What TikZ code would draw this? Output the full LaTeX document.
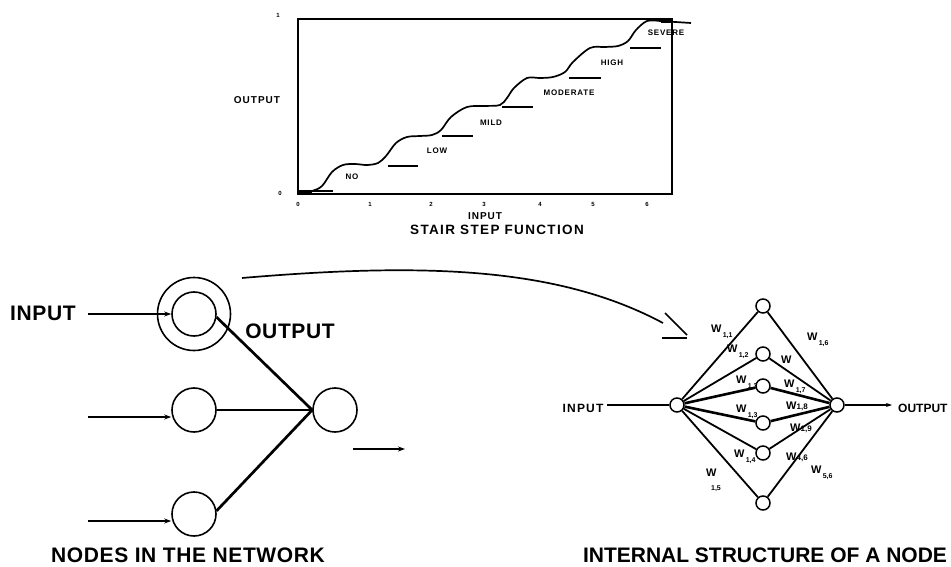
\documentclass[tikz,border=0pt]{standalone}
\usepackage{fontspec}
\setmainfont{Liberation Sans}
\newfontfamily\spacedfont[LetterSpace=10]{Liberation Sans}
\newfontfamily\widefont[LetterSpace=3]{Liberation Sans}
\usetikzlibrary{arrows.meta}

% weight label: a W with a lowered index
\newcommand\wlab[1]{W\raisebox{-5pt}{\fontsize{7}{7}\selectfont\,#1}}

\tikzset{
  bigtxt/.style={font=\fontsize{21}{21}\selectfont\bfseries, inner sep=0pt},
  widetxt/.style={font=\widefont\fontsize{21}{21}\selectfont\bfseries, inner sep=0pt},
  midtxt/.style={font=\spacedfont\fontsize{12}{12}\selectfont\bfseries, inner sep=0pt},
  axtxt/.style={font=\spacedfont\fontsize{10}{10}\selectfont\bfseries, inner sep=0pt},
  titletxt/.style={font=\spacedfont\fontsize{13.5}{13.5}\selectfont\bfseries, inner sep=0pt},
  zonetxt/.style={font=\spacedfont\fontsize{8}{8}\selectfont\bfseries, inner sep=0pt},
  ticktxt/.style={font=\fontsize{6}{6}\selectfont\bfseries, inner sep=0pt},
  wtxt/.style={font=\fontsize{11}{11}\selectfont\bfseries, inner sep=0pt, anchor=west},
  unit/.style={circle, draw, line width=1.6pt, inner sep=0pt, minimum size=44pt},
  ring/.style={circle, draw, line width=1.6pt, inner sep=0pt, minimum size=73pt},
  cell/.style={circle, draw, line width=1.5pt, inner sep=0pt, minimum size=14pt},
  feed/.style={line width=2pt, -{Stealth[length=7pt,width=5pt]}},
  link/.style={line width=2.7pt},
  wire/.style={line width=1.8pt},
  thickwire/.style={line width=2.6pt},
  stepline/.style={line width=1.7pt},
}

\begin{document}
\begin{tikzpicture}[x=1pt,y=-1pt]
\useasboundingbox (0,0) rectangle (951,567);

% ---------------- stair step function plot ----------------
\draw[line width=1.9pt] (298,19) rectangle (672,194);
\fill (298,190) rectangle (312,194);
\fill (661,19) rectangle (672,23);

\draw[stepline] plot[smooth, tension=0.55] coordinates {
  (300,192) (312,191) (322,186) (332,172) (343,165) (355,164) (367,165)
  (378,163) (386,156) (396,143) (407,137) (420,136) (432,135) (441,130)
  (451,117) (467,107) (485,106) (500,105) (507,98) (514,88) (527,78)
  (540,78) (553,77) (565,72) (573,62) (590,48) (605,47) (618,46)
  (628,41) (636,30) (647,21) (660,21)};
\draw[stepline] (660,21) -- (691,23);

% threshold marks
\foreach \xa/\xb/\yy in {303/333/191, 388/418/166, 442/473/136,
                         502/533/107, 569/601/78, 630/661/48}
  \draw[stepline] (\xa,\yy) -- (\xb,\yy);

% zone names
\node[zonetxt] (zno)   at (352,177) {NO};
\node[zonetxt] (zlow)  at (437,151) {LOW};
\node[zonetxt] (zmild) at (491,123) {MILD};
\node[zonetxt] (zmod)  at (569,93)  {MODERATE};
\node[zonetxt] (zhigh) at (612,63)  {HIGH};
\node[zonetxt] (zsev)  at (666,33)  {SEVERE};

% axis numbers
\node[ticktxt] (y1) at (278,15)  {1};
\node[ticktxt] (y0) at (280,193) {0};
\foreach \v/\xx in {0/298, 1/370, 2/431, 3/484, 4/540, 5/593, 6/647}
  \node[ticktxt] (tx\v) at (\xx,204) {\v};

\node[axtxt] (ylab) at (257,100) {OUTPUT};
\node[axtxt] (xlab) at (485,216) {INPUT};
\node[titletxt] (ptitle) at (497,230) {STAIR STEP FUNCTION};

% ---------------- nodes in the network ----------------
\node[ring] (outer) at (194,314) {};
\node[unit] (n1) at (194,314) {};
\node[unit] (n2) at (194,410) {};
\node[unit] (n3) at (194,514) {};
\node[unit] (nout) at (335,410) {};

\coordinate (s1) at (88,314);
\coordinate (s2) at (88,417);
\coordinate (s3) at (88,521);
\draw[feed] (s1) -- (n1.west);
\draw[feed] (s2) -- (n2.west |- s2);
\draw[feed] (s3) -- (n3.west |- s3);

\draw[link] (n1.-8) -- (nout.west);
\draw[link] (n2.east) -- (nout.west);
\draw[link] (n3.8) -- (nout.west);

\coordinate (q1) at (353,449);
\coordinate (q2) at (405,449);
\draw[line width=1.8pt, -{Stealth[length=7pt,width=5pt]}] (q1) -- (q2);

\node[widetxt] (inlab)  at (43,313)  {INPUT};
\node[widetxt] (outlab) at (290,331) {OUTPUT};
\node[widetxt] (leftcap) at (188,555) {NODES IN THE NETWORK};

% expansion curve toward the internal structure
\coordinate (c0) at (242,278);
\coordinate (c1) at (663,323);
\draw[line width=1.7pt] (c0) .. controls (430,262) and (560,268) .. (c1);
\coordinate (h1) at (665,313);
\coordinate (h2) at (687,335);
\coordinate (h3) at (662,338);
\coordinate (h4) at (687,338);
\draw[line width=1.7pt] (h1) -- (h2);
\draw[line width=1.7pt] (h3) -- (h4);

% ---------------- internal structure of a node ----------------
\node[cell] (I) at (677,405) {};
\node[cell] (O) at (837,405) {};
\node[cell] (H1) at (763,306) {};
\node[cell] (H2) at (763,354) {};
\node[cell] (H3) at (763,386) {};
\node[cell] (H4) at (763,423) {};
\node[cell] (H5) at (763,453) {};
\node[cell] (H6) at (763,503) {};

\foreach \k in {1,2,5,6} {
  \draw[wire] (I) -- (H\k);
  \draw[wire] (H\k) -- (O);
}
\foreach \k in {3,4} {
  \draw[thickwire] (I) -- (H\k);
  \draw[thickwire] (H\k) -- (O);
}

\coordinate (rin) at (607,405);
\coordinate (rout) at (892,405);
\draw[wire] (rin) -- (I);
\draw[wire, -{Stealth[length=6pt,width=4pt]}] (O) -- (rout);

\node[midtxt] (rinlab) at (583,408) {INPUT};
\node[font=\fontsize{12}{12}\selectfont\bfseries, inner sep=0pt, anchor=west] (routlab) at (898,408) {OUTPUT};

% weights, input side
\node[wtxt] (w11) at (711,332) {\wlab{1,1}};
\node[wtxt] (w12) at (727,352) {\wlab{1,2}};
\node[wtxt] (w13) at (736,383) {\wlab{1,3}};
\node[wtxt] (w1x) at (736,412) {\wlab{1,3}};
\node[wtxt] (w14) at (734,457) {\wlab{1,4}};
\node[wtxt] (w15) at (706,473) {W};
\node[ticktxt, font=\fontsize{7}{7}\selectfont\bfseries] (w15s) at (716,489) {1,5};

% weights, output side
\node[wtxt] (w16) at (807,340) {\wlab{1,6}};
\node[wtxt] (w2o) at (781,360) {W};
\node[wtxt] (w17) at (784,387) {\wlab{1,7}};
\node[wtxt] (w18) at (786,406) {W\fontsize{8}{8}\selectfont 1,8};
\node[wtxt] (w19) at (790,428) {W\fontsize{8}{8}\selectfont 1,9};
\node[wtxt] (w46) at (786,457) {W\fontsize{8}{8}\selectfont 4,6};
\node[wtxt] (w56) at (811,473) {\wlab{5,6}};

\node[bigtxt] (rightcap) at (765,555) {INTERNAL STRUCTURE OF A NODE};
\end{tikzpicture}
\end{document}
